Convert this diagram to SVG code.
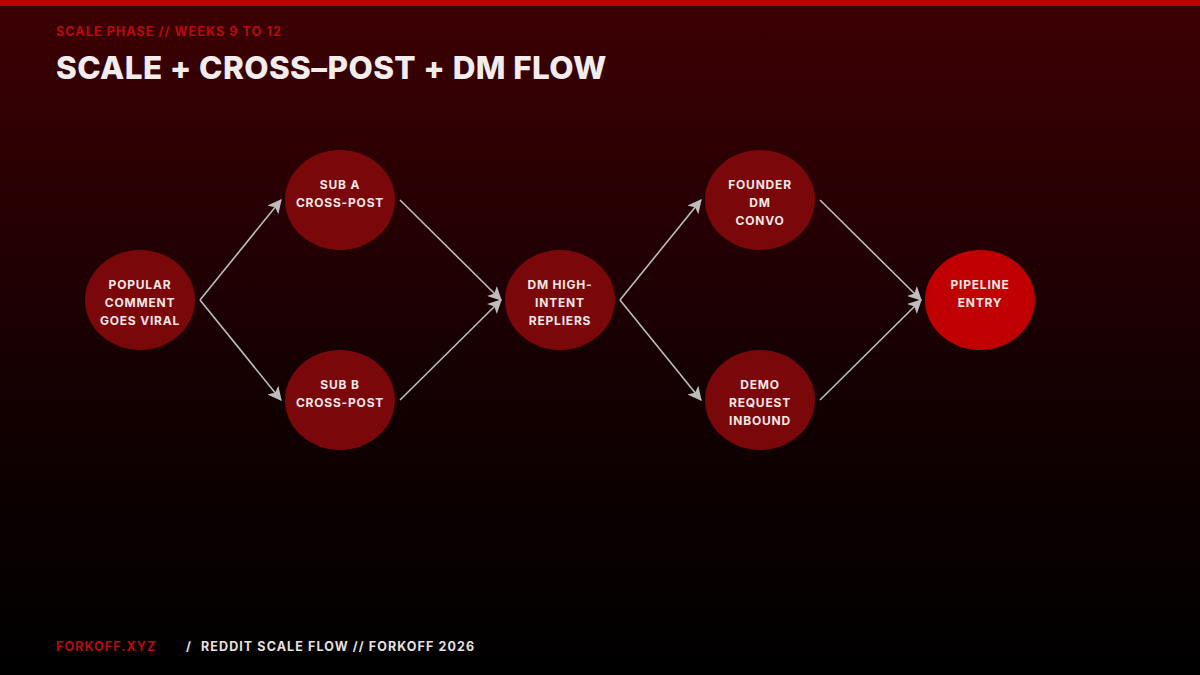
<svg xmlns="http://www.w3.org/2000/svg" width="1200" height="675" viewBox="0 0 1200 675">
<defs>
<linearGradient id="bg" x1="0" y1="0" x2="0" y2="1">
<stop offset="0" stop-color="#3d0004"/>
<stop offset="0.55" stop-color="#150002"/>
<stop offset="1" stop-color="#000000"/>
</linearGradient>
<marker id="ah" viewBox="0 0 12 12" refX="11" refY="6" markerWidth="14" markerHeight="14" markerUnits="userSpaceOnUse" orient="auto">
<path d="M0,0 L12,6 L0,12 L3,6 z" fill="#bdbdbd"/>
</marker>
<style>
.node{fill:#7a0709}
.hot{fill:#c00000}
.lbl{font-family:Inter,"Liberation Sans",sans-serif;font-weight:700;font-size:12px;fill:#f2e6e6;text-anchor:middle;letter-spacing:0.8px}
.edge{stroke:#bdbdbd;stroke-width:1.6;fill:none;marker-end:url(#ah)}
.small{font-family:Inter,"Liberation Sans",sans-serif;font-weight:700;font-size:12.5px;letter-spacing:1.1px}
</style>
</defs>
<rect width="1200" height="675" fill="url(#bg)"/>
<rect width="1200" height="6" fill="#c00000"/>
<text class="small" x="56" y="36" fill="#b80a0d">SCALE PHASE // WEEKS 9 TO 12</text>
<text x="56" y="79" font-family="Inter,'Liberation Sans',sans-serif" font-weight="800" font-size="31.5" fill="#f2ecec" letter-spacing="0.4">SCALE + CROSS–POST + DM FLOW</text>
<g id="connectors">
<line class="edge" x1="200" y1="300" x2="281" y2="200"/>
<line class="edge" x1="200" y1="300" x2="281" y2="400"/>
<line class="edge" x1="400" y1="200" x2="501" y2="300"/>
<line class="edge" x1="400" y1="400" x2="501" y2="300"/>
<line class="edge" x1="620" y1="300" x2="701" y2="200"/>
<line class="edge" x1="620" y1="300" x2="701" y2="400"/>
<line class="edge" x1="820" y1="200" x2="921" y2="300"/>
<line class="edge" x1="820" y1="400" x2="921" y2="300"/>
</g>
<g id="n-popular"><ellipse class="node" cx="140" cy="300" rx="55" ry="50"/>
<text class="lbl" x="140" y="289">POPULAR</text><text class="lbl" x="140" y="307">COMMENT</text><text class="lbl" x="140" y="325">GOES VIRAL</text></g>
<g id="n-suba"><ellipse class="node" cx="340" cy="200" rx="55" ry="50"/>
<text class="lbl" x="340" y="189">SUB A</text><text class="lbl" x="340" y="207">CROSS-POST</text></g>
<g id="n-subb"><ellipse class="node" cx="340" cy="400" rx="55" ry="50"/>
<text class="lbl" x="340" y="389">SUB B</text><text class="lbl" x="340" y="407">CROSS-POST</text></g>
<g id="n-dm"><ellipse class="node" cx="560" cy="300" rx="55" ry="50"/>
<text class="lbl" x="560" y="289">DM HIGH-</text><text class="lbl" x="560" y="307">INTENT</text><text class="lbl" x="560" y="325">REPLIERS</text></g>
<g id="n-founder"><ellipse class="node" cx="760" cy="200" rx="55" ry="50"/>
<text class="lbl" x="760" y="189">FOUNDER</text><text class="lbl" x="760" y="207">DM</text><text class="lbl" x="760" y="225">CONVO</text></g>
<g id="n-demo"><ellipse class="node" cx="760" cy="400" rx="55" ry="50"/>
<text class="lbl" x="760" y="389">DEMO</text><text class="lbl" x="760" y="407">REQUEST</text><text class="lbl" x="760" y="425">INBOUND</text></g>
<g id="n-pipeline"><ellipse class="hot" cx="980" cy="300" rx="55" ry="50"/>
<text class="lbl" x="980" y="289">PIPELINE</text><text class="lbl" x="980" y="307">ENTRY</text></g>
<text class="small" x="56" y="651" fill="#b80a0d">FORKOFF.XYZ</text>
<text class="small" x="186" y="651" fill="#e8e0e0">/</text>
<text class="small" x="201" y="651" fill="#e8e0e0">REDDIT SCALE FLOW // FORKOFF 2026</text>
</svg>
